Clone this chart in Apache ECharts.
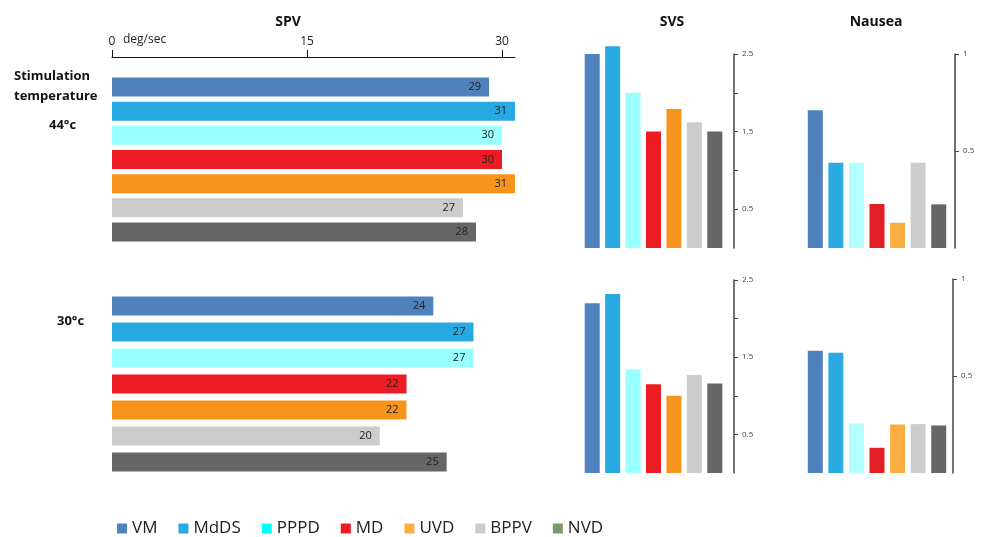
<!DOCTYPE html>
<html>
<head>
<meta charset="utf-8">
<script src="https://cdn.jsdelivr.net/npm/echarts@6/dist/echarts.min.js"></script>
<style>
  html, body { margin: 0; padding: 0; background: #fff; }
  #chart { width: 982px; height: 537px; }
</style>
</head>
<body>
<div id="chart"></div>
<script>
  // categories
  const diseases = ['VM', 'MdDS', 'PPPD', 'MD', 'UVD', 'BPPV', 'NVD'];

  // SPV deg/sec, stimulation 44°c and 30°c
  const spv44 = [29, 31, 30, 30, 31, 27, 28];
  const spv30 = [24, 27, 27, 22, 22, 20, 25];
  // SVS
  const svs44 = [2.5, 2.6, 2.0, 1.5, 1.79, 1.62, 1.5];
  const svs30 = [2.2, 2.32, 1.34, 1.15, 1.0, 1.27, 1.16];
  // Nausea
  const nausea44 = [0.71, 0.44, 0.44, 0.227, 0.13, 0.44, 0.225];
  const nausea30 = [0.63, 0.62, 0.255, 0.13, 0.25, 0.252, 0.245];

  // tick labels
  const spvTicks = [0, 15, 30];
  const svsTicks = [0.5, 1, 1.5, 2, 2.5];
  const svsTickLabels = [0.5, 1.5, 2.5];
  const nauseaTicks = [0.5, 1];

  const barColors = ['#4f81bd', '#29a9e1', '#99ffff', '#ed1c24', '#f7941d', '#cccccc', '#666666'];
  const nauseaColors = ['#4f81bd', '#29abe2', '#b3ffff', '#e21f27', '#fbae40', '#cccccc', '#666666'];
  const legendColors = ['#4f81bd', '#29abe2', '#00ffff', '#ed1c24', '#fbb040', '#cccccc', '#7e9a6c'];

  const FONT = '"Open Sans", "Noto Sans", sans-serif';

  /*一个面板 -> 每个疾病一个系列*/
  const panelSeries = (idx, values, colors, horizontal, width) =>
    diseases.map((name, i) => ({
      name,
      type: 'bar',
      xAxisIndex: idx,
      yAxisIndex: idx,
      barWidth: width,
      barGap: '-100%',
      clip: false,
      silent: true,
      itemStyle: { color: colors[i] },
      label: horizontal
        ? {
            show: true,
            position: 'insideRight',
            distance: 8,
            fontSize: 11,
            fontFamily: FONT,
            color: '#222',
          }
        : { show: false },
      data: diseases.map((c, j) => (j === i ? values[i] : '-')),
    }));

  const sideAxis = (idx, max, offset, ticks, labels) => ({
    gridIndex: idx,
    type: 'value',
    position: 'right',
    offset,
    min: 0,
    max,
    axisLine: { show: true, lineStyle: { color: '#444', width: 1.5 } },
    axisTick: { show: true, length: 4, customValues: ticks, lineStyle: { color: '#444' } },
    axisLabel: { customValues: labels, margin: 8, fontSize: 8, fontFamily: FONT, color: '#444' },
    splitLine: { show: false },
  });

  const catAxis = idx => ({ gridIndex: idx, type: 'category', data: diseases, show: false });

  const chart = echarts.init(document.getElementById('chart'));
  chart.setOption({
    animation: false,
    title: [
      { text: 'SPV', left: 283, top: 10, textAlign: 'center' },
      { text: 'SVS', left: 667, top: 10, textAlign: 'center' },
      { text: 'Nausea', left: 871, top: 10, textAlign: 'center' },
    ].map(t => ({
      ...t,
      textStyle: { fontSize: 14, fontWeight: 'bold', fontFamily: FONT, color: '#111' },
    })),
    legend: {
      left: 112,
      top: 515,
      icon: 'rect',
      itemWidth: 10,
      itemHeight: 10,
      itemGap: 21,
      selectedMode: false,
      textStyle: { fontSize: 17, fontFamily: FONT, color: '#222' },
      data: diseases.map((name, i) => ({ name, itemStyle: { color: legendColors[i] } })),
    },
    grid: [
      { left: 112, top: 75, width: 403, height: 169 },
      { left: 112, top: 293, width: 415, height: 182 },
      { left: 582, top: 54, width: 143, height: 194 },
      { left: 582, top: 280, width: 143, height: 193 },
      { left: 805, top: 54, width: 144, height: 194 },
      { left: 805, top: 279, width: 144, height: 194 },
    ],
    xAxis: [
      {
        gridIndex: 0,
        type: 'value',
        position: 'top',
        offset: 18,
        min: 0,
        max: 31,
        axisLine: { show: true, lineStyle: { color: '#111', width: 1 } },
        axisTick: { show: true, length: 7, customValues: spvTicks, lineStyle: { color: '#111' } },
        axisLabel: { customValues: spvTicks, margin: 9, fontSize: 12, fontFamily: FONT, color: '#222' },
        splitLine: { show: false },
      },
      { gridIndex: 1, type: 'value', min: 0, max: 31, show: false },
      catAxis(2),
      catAxis(3),
      catAxis(4),
      catAxis(5),
    ],
    yAxis: [
      { gridIndex: 0, type: 'category', data: diseases, inverse: true, show: false },
      { gridIndex: 1, type: 'category', data: diseases, inverse: true, show: false },
      sideAxis(2, 2.5, 9, svsTicks, svsTickLabels),
      sideAxis(3, 2.5, 9, svsTicks, svsTickLabels),
      sideAxis(4, 1, 6, nauseaTicks, nauseaTicks),
      sideAxis(5, 1, 4, nauseaTicks, nauseaTicks),
    ],
    graphic: [
      {
        type: 'text',
        left: 14,
        top: 66,
        style: {
          text: 'Stimulation\ntemperature',
          font: `bold 13px ${FONT}`,
          lineHeight: 20,
          fill: '#111',
        },
      },
      { type: 'text', left: 49, top: 119, style: { text: '44°c', font: `bold 13px ${FONT}`, fill: '#111' } },
      { type: 'text', left: 57, top: 315, style: { text: '30°c', font: `bold 13px ${FONT}`, fill: '#111' } },
      { type: 'text', left: 123, top: 34, style: { text: 'deg/sec', font: `12px ${FONT}`, fill: '#222' } },
    ],
    series: [
      ...panelSeries(0, spv44, barColors, true, 19),
      ...panelSeries(1, spv30, barColors, true, 19),
      ...panelSeries(2, svs44, barColors, false, 15),
      ...panelSeries(3, svs30, barColors, false, 15),
      ...panelSeries(4, nausea44, nauseaColors, false, 15),
      ...panelSeries(5, nausea30, nauseaColors, false, 15),
    ],
  });
</script>
</body>
</html>
